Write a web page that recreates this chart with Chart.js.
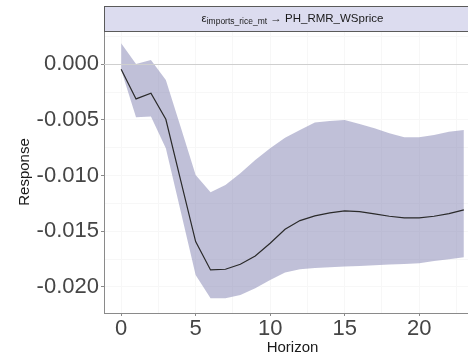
<!DOCTYPE html>
<html>
<head>
<meta charset="utf-8">
<script src="https://cdn.jsdelivr.net/npm/chart.js@4/dist/chart.umd.min.js"></script>
<style>
  html, body { margin: 0; padding: 0; background: #ffffff; overflow: hidden; }
  canvas { display: block; }
</style>
</head>
<body>
<canvas id="irf" width="481" height="358"></canvas>
<script>
// Impulse response: imports_rice_mt shock -> PH_RMR_WSprice
const horizons = [0,1,2,3,4,5,6,7,8,9,10,11,12,13,14,15,16,17,18,19,20,21,22,23];
const response = [-0.00045,-0.00311,-0.0026,-0.00494,-0.01045,-0.01593,-0.01847,-0.01841,-0.01796,-0.01722,
                  -0.01608,-0.01482,-0.01404,-0.01362,-0.01335,-0.01317,-0.01323,-0.01344,-0.01365,-0.0138,
                  -0.0138,-0.01365,-0.01341,-0.01308];
const upperBand = [0.00189,0.00003,0.00039,-0.00141,-0.00566,-0.00994,-0.0115,-0.01084,-0.00979,-0.00859,
                   -0.00754,-0.00659,-0.0059,-0.00524,-0.00509,-0.005,-0.00536,-0.00575,-0.0062,-0.00656,
                   -0.00656,-0.00635,-0.00605,-0.0059];
const lowerBand = [-0.0005,-0.00476,-0.0047,-0.00754,-0.01323,-0.01892,-0.02102,-0.02102,-0.02072,-0.02012,
                   -0.01937,-0.01871,-0.01841,-0.01829,-0.01823,-0.01817,-0.01811,-0.01805,-0.01799,-0.01793,
                   -0.01787,-0.01766,-0.01751,-0.01734];
const xTicks = [0,2.5,5,7.5,10,12.5,15,17.5,20,22.5];
const yTicks = [0.0025,0,-0.0025,-0.005,-0.0075,-0.01,-0.0125,-0.015,-0.0175,-0.02];
const xRange = [-1.15, 24.15];
const yRange = [-0.02234, 0.00299];

const toPoints = vals => horizons.map((h, i) => ({ x: h, y: vals[i] }));
const isMajor = (v, step) => Math.abs(v / step - Math.round(v / step)) < 1e-6;

const FONT = "'Liberation Sans', Arial, sans-serif";
const tickGray = '#8a8a8a';

// facet strip above the panel
const stripPlugin = {
  id: 'strip',
  afterDraw(chart) {
    const { ctx, chartArea } = chart;
    const top = 6, bottom = chartArea.top;
    ctx.save();
    ctx.fillStyle = '#dcdcef';
    ctx.fillRect(chartArea.left, top, chartArea.right - chartArea.left, bottom - top);
    ctx.strokeStyle = '#5a5a5a';
    ctx.lineWidth = 1;
    ctx.strokeRect(chartArea.left + 0.5, top + 0.5, chartArea.right - chartArea.left - 1, bottom - top);
    const mainFont = '11.5px ' + FONT, subFont = '8.5px ' + FONT;
    const parts = [
      { t: '\u03b5', f: mainFont, dy: 0 },
      { t: 'imports_rice_mt', f: subFont, dy: 3 },
      { t: ' \u2192 PH_RMR_WSprice', f: mainFont, dy: 0 }
    ];
    let total = 0;
    parts.forEach(p => { ctx.font = p.f; p.w = ctx.measureText(p.t).width; total += p.w; });
    let x = (chartArea.left + chartArea.right) / 2 - total / 2;
    const yMid = (top + bottom) / 2 + 0.5;
    ctx.fillStyle = '#1a1a1a';
    ctx.textBaseline = 'middle';
    parts.forEach(p => { ctx.font = p.f; ctx.fillText(p.t, x, yMid + p.dy); x += p.w; });
    ctx.restore();
  }
};

// reference line at zero, drawn over the band and under the response line
const zeroLinePlugin = {
  id: 'zeroLine',
  beforeDatasetDraw(chart, args) {
    if (args.index !== 0) return;
    const { ctx, chartArea, scales } = chart;
    const y = Math.round(scales.y.getPixelForValue(0)) + 0.5;
    ctx.save();
    ctx.strokeStyle = '#cfcfcf';
    ctx.lineWidth = 1;
    ctx.beginPath();
    ctx.moveTo(chartArea.left, y);
    ctx.lineTo(chartArea.right, y);
    ctx.stroke();
    ctx.restore();
  }
};

new Chart(document.getElementById('irf'), {
  type: 'line',
  data: {
    datasets: [
      {
        label: 'response',
        data: toPoints(response),
        borderColor: '#2a2a2a',
        borderWidth: 1.2,
        pointRadius: 0,
        fill: false,
        tension: 0
      },
      {
        label: 'upper',
        data: toPoints(upperBand),
        borderWidth: 0,
        borderColor: 'rgba(0,0,0,0)',
        backgroundColor: 'rgba(129,129,177,0.5)',
        pointRadius: 0,
        fill: '+1',
        tension: 0
      },
      {
        label: 'lower',
        data: toPoints(lowerBand),
        borderWidth: 0,
        borderColor: 'rgba(0,0,0,0)',
        pointRadius: 0,
        fill: false,
        tension: 0
      }
    ]
  },
  options: {
    responsive: false,
    animation: false,
    events: [],
    layout: { padding: { top: 31, left: 0, right: 0, bottom: 0 } },
    plugins: { legend: { display: false }, tooltip: { enabled: false }, title: { display: false } },
    scales: {
      x: {
        type: 'linear',
        min: xRange[0],
        max: xRange[1],
        afterBuildTicks: s => { s.ticks = xTicks.map(v => ({ value: v })); },
        afterFit: s => { s.height = 45; },
        border: { display: true, color: tickGray, width: 1 },
        grid: {
          color: '#f7f7f7',
          lineWidth: 1,
          drawTicks: true,
          tickLength: 3,
          tickColor: c => (c.tick && isMajor(c.tick.value, 5)) ? tickGray : 'rgba(0,0,0,0)'
        },
        ticks: {
          autoSkip: false,
          maxRotation: 0,
          padding: 2,
          color: '#454545',
          font: { family: FONT, size: 22, lineHeight: 1.0 },
          callback: v => isMajor(v, 5) ? String(v) : ''
        },
        title: {
          display: true,
          text: 'Horizon',
          color: '#1a1a1a',
          font: { family: FONT, size: 15, lineHeight: 1.2 },
          padding: { top: 0, bottom: 1 }
        }
      },
      y: {
        type: 'linear',
        min: yRange[0],
        max: yRange[1],
        afterBuildTicks: s => { s.ticks = yTicks.map(v => ({ value: v })); },
        afterFit: s => { s.width = 104; },
        border: { display: true, color: tickGray, width: 1 },
        grid: {
          color: '#f7f7f7',
          lineWidth: 1,
          drawTicks: true,
          tickLength: 3,
          tickColor: c => (c.tick && isMajor(c.tick.value, 0.005)) ? tickGray : 'rgba(0,0,0,0)'
        },
        ticks: {
          autoSkip: false,
          padding: 2,
          color: '#454545',
          font: { family: FONT, size: 22, lineHeight: 1.0 },
          callback: v => isMajor(v, 0.005) ? v.toFixed(3) : ''
        },
        title: {
          display: true,
          text: 'Response',
          color: '#1a1a1a',
          font: { family: FONT, size: 15, lineHeight: 1.2 },
          padding: { top: 16, bottom: 0 }
        }
      }
    }
  },
  plugins: [stripPlugin, zeroLinePlugin]
});
</script>
</body>
</html>
